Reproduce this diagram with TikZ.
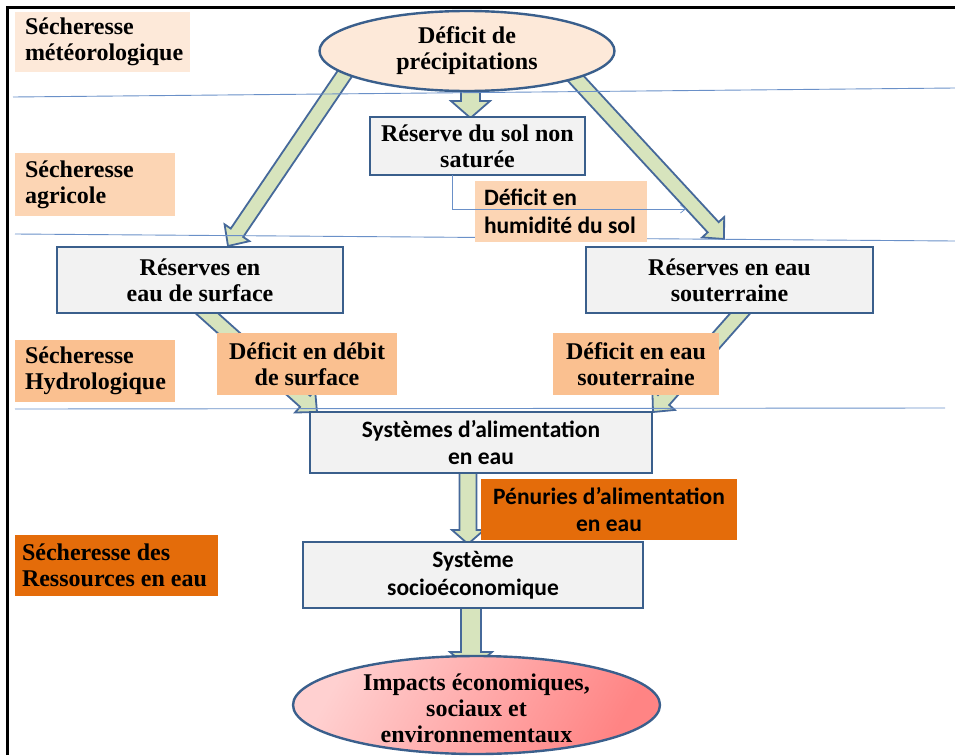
\documentclass[tikz,border=0pt]{standalone}
\usepackage{fontspec}
\setmainfont{Liberation Serif}
\newfontfamily\calfont{Carlito}
\usetikzlibrary{calc,arrows.meta,shapes.geometric}
\pgfdeclarelayer{bg}
\pgfsetlayers{bg,main}
\definecolor{lineblue}{HTML}{6A90C8}
\definecolor{boxborder}{HTML}{3A5F8C}
\definecolor{boxfill}{HTML}{F2F2F2}
\definecolor{peachA}{HTML}{FDE9D9}
\definecolor{peachB}{HTML}{FCD5B4}
\definecolor{peachC}{HTML}{FAC090}
\definecolor{orangeD}{HTML}{E46C0A}
\definecolor{arrowfill}{HTML}{D7E4BD}
\definecolor{arrowedge}{HTML}{46699A}
\definecolor{pinkA}{HTML}{FFD0D0}
\definecolor{pinkB}{HTML}{FF8484}
\newcommand{\fatarrow}[5]{%
  \coordinate (fah) at ($(#2)!#5!(#1)$);
  \draw[fatstyle] ($(#1)!#3!90:(#2)$) -- ($(fah)!#3!90:(#2)$) -- ($(fah)!#4!90:(#2)$)
    -- (#2) -- ($(fah)!#4!-90:(#2)$) -- ($(fah)!#3!-90:(#2)$) -- ($(#1)!#3!-90:(#2)$) -- cycle;}
\begin{document}
\begin{tikzpicture}[x=1pt,y=-1pt,
  serif/.style={font=\bfseries\fontsize{24}{26}\selectfont},
  cal/.style={font=\calfont\bfseries\fontsize{23.5}{27.5}\selectfont},
  rectbox/.style={draw=boxborder, fill=boxfill, line width=2.4pt, align=center, inner sep=0pt},
  lab/.style={inner xsep=10pt, inner ysep=0pt, align=flush left},
  clab/.style={inner sep=0pt, align=center},
  fatstyle/.style={draw=arrowedge, fill=arrowfill, line width=1.8pt, line join=miter},
  sepline/.style={draw=lineblue, line width=0.9pt},
  thinarrow/.style={draw=lineblue, line width=0.7pt, -{Straight Barb[length=5pt,width=8pt]}}
]
\useasboundingbox (0,0) rectangle (955,755);

% level labels
\node[lab, serif, fill=peachA, text width=155pt, minimum height=60pt] (meteo) at (102.5,42) {Sécheresse\\météorologique};
\node[lab, serif, fill=peachB, text width=140pt, minimum height=63pt] (agri) at (95,184.5) {Sécheresse\\agricole};
\node[lab, serif, fill=peachC, text width=140pt, minimum height=62pt] (hydro) at (95,371) {Sécheresse\\Hydrologique};
\node[lab, serif, fill=orangeD, text width=189pt, inner xsep=7pt, minimum height=61pt] (ress) at (116.5,565.5) {Sécheresse des\\Ressources en eau};

% main nodes
\node[ellipse, draw=boxborder, fill=peachA, line width=2.4pt, serif, align=center, minimum width=295pt, minimum height=80pt, inner sep=0pt] (prec) at (467,51) {Déficit de\\précipitations};
\node[rectbox, serif, minimum width=215pt, minimum height=58pt] (sol) at (477.5,146) {Réserve du sol non\\saturée};
\node[lab, cal, fill=peachB, text width=154pt, inner xsep=9pt, minimum height=61pt] (hum) at (561,211.5) {Déficit en\\humidité du sol};
\node[rectbox, serif, minimum width=286pt, minimum height=66pt] (surf) at (200,280) {Réserves en\\eau de surface};
\node[rectbox, serif, minimum width=287pt, minimum height=66pt] (sout) at (729.5,280) {Réserves en eau\\souterraine};
\node[clab, serif, fill=peachC, minimum width=180pt, minimum height=62pt] (debit) at (307,364) {Déficit en débit\\de surface};
\node[clab, serif, fill=peachC, minimum width=166pt, minimum height=62pt] (deau) at (636,364) {Déficit en eau\\souterraine};
\node[rectbox, cal, minimum width=342pt, minimum height=61pt] (sys) at (481,442.5) {Systèmes d’alimentation\\en eau};
\node[clab, cal, fill=orangeD, minimum width=256pt, minimum height=61pt] (pen) at (609,509.5) {Pénuries d’alimentation\\en eau};
\node[rectbox, cal, minimum width=340pt, minimum height=66pt] (soc) at (473,575) {Système\\socioéconomique};
\node[ellipse, draw=boxborder, line width=2.4pt, left color=pinkA, right color=pinkB, shading angle=60, minimum width=367pt, minimum height=98pt, inner sep=0pt] (imp) at (476.5,705) {};
\node[clab, serif, fill=none] (imptext) at (476.5,708) {Impacts économiques,\\sociaux et\\environnementaux};

% arrow end coordinates
\coordinate (a0s) at (470.5,80);  \coordinate (a0t) at (470.5,118);
\coordinate (a1s) at (350,66);    \coordinate (a1t) at (228,246);
\coordinate (a2s) at (568,70);    \coordinate (a2t) at (724,239);
\coordinate (a3s) at (192,300);   \coordinate (a3t) at (317,412);
\coordinate (a4s) at (752,300);   \coordinate (a4t) at (653,412);
\coordinate (a5s) at (468,470);   \coordinate (a5t) at (468,544);
\coordinate (a6s) at (471,606);   \coordinate (a6t) at (471,670);
\coordinate (s1a) at (13,97);     \coordinate (s1b) at (955,88);
\coordinate (s2a) at (15,234);    \coordinate (s2b) at (955,241);
\coordinate (s3a) at (15,409);    \coordinate (s3b) at (945,408);
\coordinate (tha) at (452,175);   \coordinate (thb) at (686,209);
\coordinate (fr1) at (7,755);     \coordinate (fr2) at (7,7);   \coordinate (fr3) at (955,7);

\begin{pgfonlayer}{bg}
  \fatarrow{a0s}{a0t}{9.5pt}{19.5pt}{17pt}
  \fatarrow{a1s}{a1t}{7.5pt}{15pt}{16pt}
  \fatarrow{a2s}{a2t}{7.5pt}{15pt}{16pt}
  \fatarrow{a3s}{a3t}{7.5pt}{15pt}{16pt}
  \fatarrow{a4s}{a4t}{7.5pt}{15pt}{16pt}
  \fatarrow{a5s}{a5t}{8.5pt}{16pt}{14pt}
  \fatarrow{a6s}{a6t}{10pt}{21pt}{18pt}
  \draw[sepline] (s1a) -- (s1b);
  \draw[sepline] (s2a) -- (s2b);
  \draw[sepline] (s3a) -- (s3b);
\end{pgfonlayer}

\draw[thinarrow] (tha) |- (thb);
\draw[line width=3pt] (fr1) -- (fr2) -- (fr3);
\end{tikzpicture}
\end{document}
